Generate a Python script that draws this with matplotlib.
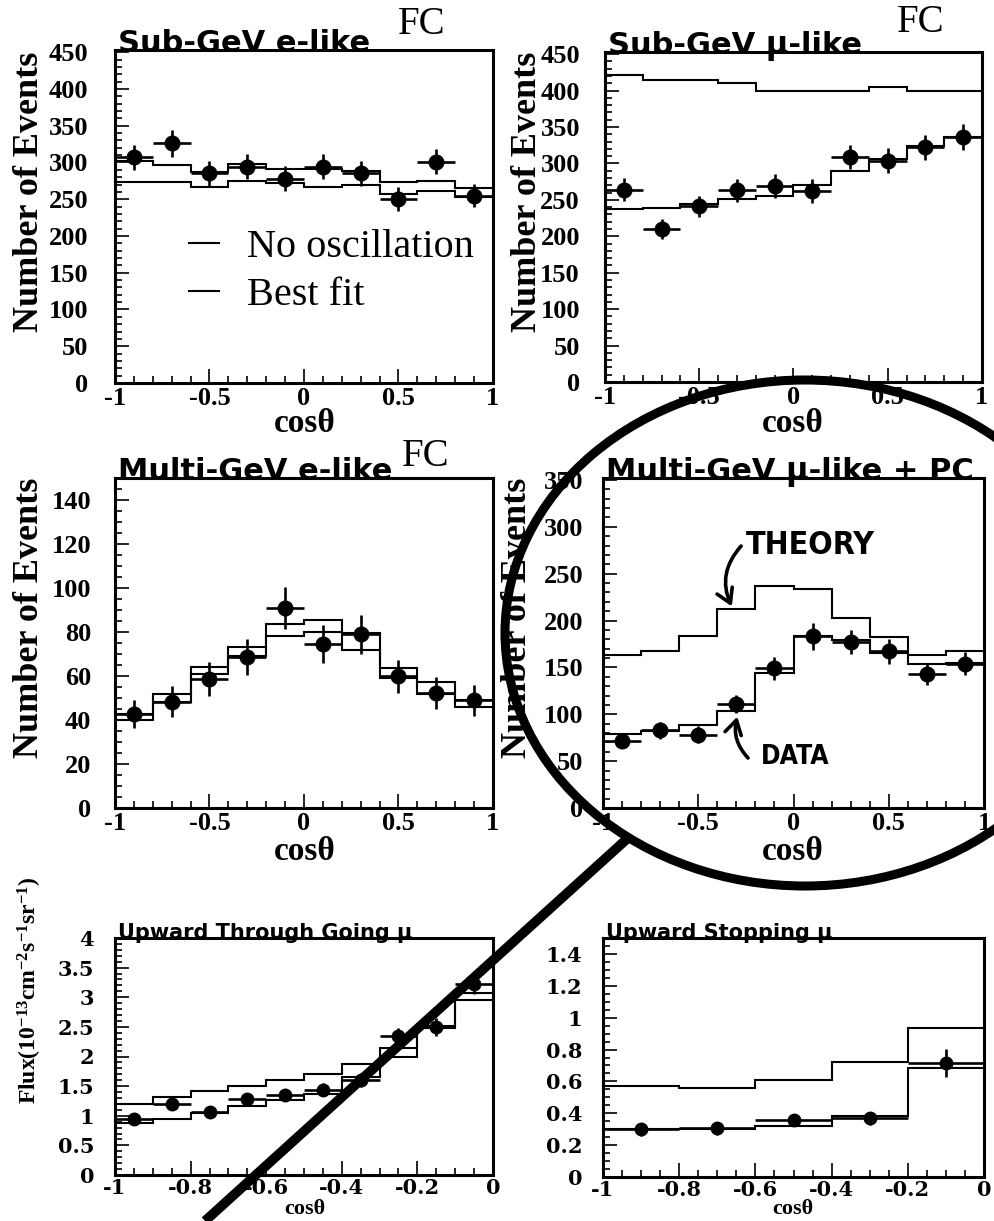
import numpy as np
import matplotlib
matplotlib.use("Agg")
import matplotlib.pyplot as plt
from matplotlib.patches import Ellipse, FancyArrowPatch
from matplotlib.ticker import MultipleLocator

plt.rcParams['axes.unicode_minus'] = False
plt.rcParams['mathtext.fontset'] = 'custom'
plt.rcParams['mathtext.rm'] = 'Liberation Serif:bold'
plt.rcParams['mathtext.it'] = 'Liberation Serif:bold'
plt.rcParams['mathtext.bf'] = 'Liberation Serif:bold'

# ---------------- data ----------------
edges_full = [-1.0, -0.8, -0.6, -0.4, -0.2, 0.0, 0.2, 0.4, 0.6, 0.8, 1.0]
centers_full = [-0.9, -0.7, -0.5, -0.3, -0.1, 0.1, 0.3, 0.5, 0.7, 0.9]
edges_thru = [-1.0, -0.9, -0.8, -0.7, -0.6, -0.5, -0.4, -0.3, -0.2, -0.1, 0.0]
centers_thru = [-0.95, -0.85, -0.75, -0.65, -0.55, -0.45, -0.35, -0.25, -0.15, -0.05]
edges_stop = [-1.0, -0.8, -0.6, -0.4, -0.2, 0.0]
centers_stop = [-0.9, -0.7, -0.5, -0.3, -0.1]

sub_e_data = [307, 326, 285, 294, 278, 294, 285, 250, 301, 255]
sub_e_err = [17, 18, 17, 17, 17, 17, 17, 16, 17, 16]
sub_e_bestfit = [302, 296, 287, 298, 291, 291, 288, 273, 275, 265]
sub_e_noosc = [273, 273, 267, 275, 272, 267, 269, 257, 261, 253]

sub_mu_data = [264, 210, 241, 263, 269, 262, 309, 304, 322, 336]
sub_mu_err = [16, 14, 15, 16, 16, 16, 17, 17, 17, 18]
sub_mu_noosc = [421, 415, 415, 410, 400, 400, 400, 405, 399, 399]
sub_mu_bestfit = [237, 239, 245, 251, 256, 270, 290, 306, 324, 337]

multi_e_data = [42.8, 48.4, 58.6, 68.6, 90.8, 74.6, 79.0, 59.8, 52.2, 48.9]
multi_e_err = [6.5, 7.0, 7.6, 8.3, 9.5, 8.6, 8.9, 7.7, 7.2, 7.0]
multi_e_noosc = [42.8, 51.9, 64.3, 73.1, 83.7, 85.5, 79.5, 63.6, 57.5, 48.9]
multi_e_bestfit = [40.0, 48.0, 61.0, 69.2, 78.2, 79.8, 71.9, 59.0, 51.9, 45.9]

multi_mu_data = [72, 83, 78, 111, 149, 183, 177, 167, 143, 154]
multi_mu_err = [8, 9, 9, 10, 12, 14, 13, 13, 12, 12]
multi_mu_noosc = [163.5, 167, 183, 212, 237, 234, 203, 182, 163.5, 168]
multi_mu_bestfit = [79, 82, 89, 103, 144, 184, 179.5, 165, 153.5, 155]

thru_data = [0.95, 1.20, 1.07, 1.29, 1.35, 1.44, 1.60, 2.34, 2.50, 3.22]
thru_err = [0.09, 0.10, 0.09, 0.10, 0.10, 0.11, 0.12, 0.14, 0.15, 0.17]
thru_noosc = [1.20, 1.32, 1.41, 1.51, 1.61, 1.71, 1.88, 2.15, 2.52, 3.08]
thru_bestfit = [0.88, 0.94, 1.05, 1.16, 1.27, 1.36, 1.66, 1.99, 2.48, 2.96]

stop_data = [0.30, 0.305, 0.358, 0.368, 0.716]
stop_err = [0.04, 0.04, 0.04, 0.04, 0.09]
stop_noosc = [0.568, 0.558, 0.61, 0.722, 0.937]
stop_bestfit = [0.30, 0.30, 0.32, 0.383, 0.684]

ticks_full = [-1, -0.5, 0, 0.5, 1]
ticklabels_full = ["-1", "-0.5", "0", "0.5", "1"]
ticks_half = [-1, -0.8, -0.6, -0.4, -0.2, 0]
ticklabels_half = ["-1", "-0.8", "-0.6", "-0.4", "-0.2", "0"]

# ---------------- layout ----------------
W, H = 995, 1221
fig = plt.figure(figsize=(W / 100, H / 100), dpi=100)

def px_axes(l, t, r, b):
    return fig.add_axes([l / W, 1 - b / H, (r - l) / W, (b - t) / H])

def ftext(x, y, s, **kw):
    return fig.text(x / W, 1 - y / H, s, **kw)

SERIF = "Liberation Serif"
WSERIF = "DejaVu Serif"
SANS = "DejaVu Sans"


def panel(rect, edges, centers, data, err, hists, ylim, yticks, ystep_minor,
          xticks, xlabels, xminor, title, title_fs, tfam, tfs, ypad, ms, xpad=3, hlw=1.5):
    ax = px_axes(*rect)
    lines = []
    for h in hists:
        st = ax.stairs(h, edges, color="black", lw=hlw, baseline=None, zorder=3)
        lines.append(st)
    xerr = np.diff(edges) / 2.0
    ax.errorbar(centers, data, yerr=err, xerr=xerr, fmt="o", color="black",
                ms=ms, elinewidth=1.9, capsize=0, zorder=4)
    ax.set_xlim(edges[0], edges[-1])
    ax.set_ylim(*ylim)
    ax.set_xticks(xticks, labels=xlabels, fontfamily=tfam, fontweight="bold", fontsize=tfs)
    ax.set_yticks(yticks, labels=[("%g" % v) for v in yticks], fontfamily=tfam,
                  fontweight="bold", fontsize=tfs)
    ax.xaxis.set_minor_locator(MultipleLocator(xminor))
    ax.yaxis.set_minor_locator(MultipleLocator(ystep_minor))
    ax.tick_params(which="both", direction="in", top=False, right=False, width=1.2)
    ax.tick_params(which="major", length=10)
    ax.tick_params(which="minor", length=5)
    ax.tick_params(axis="y", pad=ypad)
    ax.tick_params(axis="x", pad=xpad)
    for s in ax.spines.values():
        s.set_linewidth(2.2)
    ax.text(0.008, 0.995, title, transform=ax.transAxes, ha="left", va="baseline",
            fontfamily=SANS, fontweight="bold", fontsize=title_fs, zorder=1, clip_on=False)
    return ax, lines


# Panel 1: Sub-GeV e-like
ax1, l1 = panel((115, 50, 493, 383), edges_full, centers_full, sub_e_data, sub_e_err,
                [sub_e_noosc, sub_e_bestfit], (0, 453), list(range(0, 451, 50)), 10,
                ticks_full, ticklabels_full, 0.1, "Sub-GeV e-like", 22, SERIF, 19, 19, 10.5)
ax1.legend(l1, ["No oscillation", "Best fit"], loc="center left",
           bbox_to_anchor=(0.195, 0.335), frameon=False, handlelength=0.75,
           handletextpad=0.7, labelspacing=0.25, borderpad=0, borderaxespad=0,
           prop={"family": SERIF, "size": 29})

# Panel 2: Sub-GeV mu-like
ax2, _ = panel((605, 52, 982, 382), edges_full, centers_full, sub_mu_data, sub_mu_err,
               [sub_mu_noosc, sub_mu_bestfit], (0, 453), list(range(0, 451, 50)), 10,
               ticks_full, ticklabels_full, 0.1, "Sub-GeV \u03bc-like", 22, SERIF, 19, 18, 10.5)

# Panel 3: Multi-GeV e-like
ax3, _ = panel((115, 478, 493, 808), edges_full, centers_full, multi_e_data, multi_e_err,
               [multi_e_noosc, multi_e_bestfit], (0, 150), list(range(0, 141, 20)), 5,
               ticks_full, ticklabels_full, 0.1, "Multi-GeV e-like", 22, SERIF, 19, 17, 10.5)

# Panel 4: Multi-GeV mu-like + PC
ax4, _ = panel((603, 478, 984, 808), edges_full, centers_full, multi_mu_data, multi_mu_err,
               [multi_mu_noosc, multi_mu_bestfit], (0, 352), list(range(0, 351, 50)), 10,
               ticks_full, ticklabels_full, 0.1, "Multi-GeV \u03bc-like + PC", 22, SERIF, 19, 14, 10.5)

# Panel 5: Upward through-going mu
ax5, _ = panel((115, 938, 493, 1175), edges_thru, centers_thru, thru_data, thru_err,
               [thru_noosc, thru_bestfit], (0, 4.0), [0, 0.5, 1, 1.5, 2, 2.5, 3, 3.5, 4], 0.1,
               ticks_half, ticklabels_half, 0.05, "Upward Through Going \u03bc", 15, WSERIF, 15, 15, 9,
               xpad=2)

# Panel 6: Upward stopping mu
ax6, _ = panel((603, 938, 984, 1177), edges_stop, centers_stop, stop_data, stop_err,
               [stop_noosc, stop_bestfit], (0, 1.5), [0, 0.2, 0.4, 0.6, 0.8, 1, 1.2, 1.4], 0.05,
               ticks_half, ticklabels_half, 0.05, "Upward Stopping \u03bc", 15, WSERIF, 15, 15, 9,
               xpad=2)

# axis labels
ylab_kw = dict(fontfamily=SERIF, fontweight="bold", fontsize=26, rotation=90,
               ha="center", va="center")
ftext(30, 192, "Number of Events", **ylab_kw)
ftext(527, 192, "Number of Events", **ylab_kw)
ftext(30, 618, "Number of Events", **ylab_kw)
ftext(518, 618, "Number of Events", **ylab_kw)
ftext(30, 990, "Flux(10$^{-13}$cm$^{-2}$s$^{-1}$sr$^{-1}$)", fontfamily=SERIF,
      fontweight="bold", fontsize=17, rotation=90, ha="center", va="center")

xlab_kw = dict(fontfamily=SERIF, fontweight="bold", fontsize=24, ha="center", va="center")
ftext(305, 424, "cos\u03b8", **xlab_kw)
ftext(793, 424, "cos\u03b8", **xlab_kw)
ftext(305, 851, "cos\u03b8", **xlab_kw)
ftext(793, 851, "cos\u03b8", **xlab_kw)
ftext(305, 1209, "cos\u03b8", fontfamily=SERIF, fontweight="bold", fontsize=16, ha="center", va="center")
ftext(793, 1209, "cos\u03b8", fontfamily=SERIF, fontweight="bold", fontsize=16, ha="center", va="center")

fc_kw = dict(fontfamily=SERIF, fontsize=28, ha="center", va="center")
ftext(422, 24, "FC", **fc_kw)
ftext(921, 23, "FC", **fc_kw)
ftext(426, 456, "FC", **fc_kw)

# ---------------- hand-drawn overlay ----------------
ov = fig.add_axes([0, 0, 1, 1], zorder=10)
ov.set_xlim(0, W)
ov.set_ylim(H, 0)
ov.axis("off")
ov.patch.set_alpha(0)
ov.add_patch(Ellipse((805, 633), 600, 506, fill=False, lw=6.5, ec="black"))
ov.plot([205, 628], [1221, 838], color="black", lw=7, solid_capstyle="butt")

ov.text(810, 546, "THEORY", fontfamily="DejaVu Sans", fontstretch="condensed",
        fontweight="bold", fontsize=23, ha="center", va="center", color="black")
ov.text(795, 757, "DATA", fontfamily="DejaVu Sans", fontstretch="condensed",
        fontweight="bold", fontsize=19, ha="center", va="center", color="black")
arrow_style = "->,head_length=0.5,head_width=0.3"
ov.add_patch(FancyArrowPatch((743, 544), (733, 609), connectionstyle="arc3,rad=0.35",
                             arrowstyle=arrow_style, lw=2.6, color="black",
                             mutation_scale=20))
ov.add_patch(FancyArrowPatch((750, 760), (738, 714), connectionstyle="arc3,rad=-0.3",
                             arrowstyle=arrow_style, lw=2.6, color="black",
                             mutation_scale=20))

fig.savefig("out.png", dpi=100)
